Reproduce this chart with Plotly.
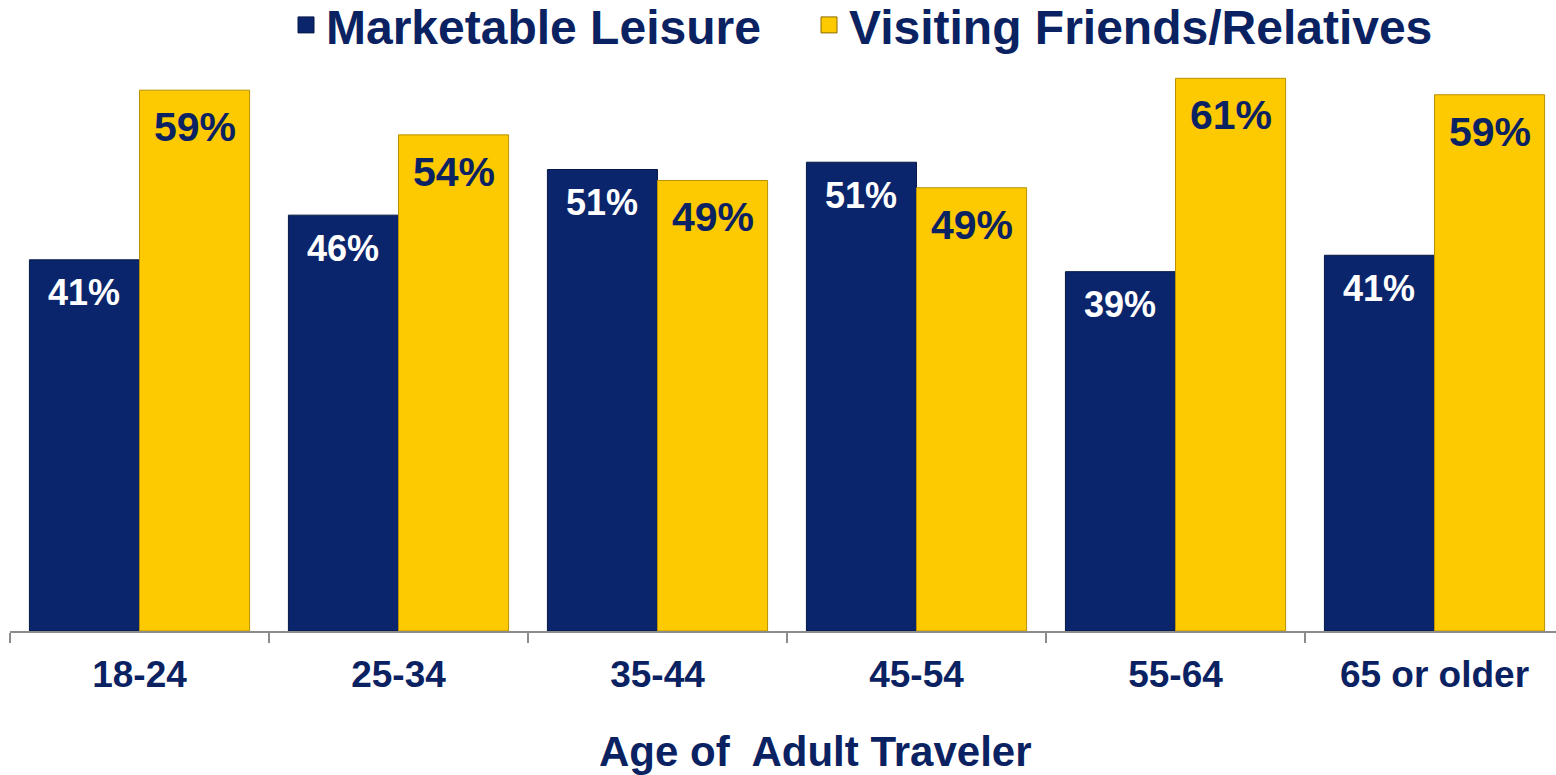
import plotly.graph_objects as go

categories = ["18-24", "25-34", "35-44", "45-54", "55-64", "65 or older"]
marketable_leisure = [40.7, 45.6, 50.6, 51.4, 39.4, 41.2]
visiting_friends = [59.3, 54.4, 49.4, 48.6, 60.6, 58.8]
series_names = ["Marketable Leisure", "Visiting Friends/Relatives"]
axis_title = "Age of  Adult Traveler"

NAVY_BAR = "#0b256c"
NAVY_TXT = "#0b2262"
YELLOW = "#fdc900"
FONT = "Liberation Sans"

W, H = 1556, 775
ML, MR, MT, MB = 10, 0, 70, 144
plot_w = W - ML - MR
plot_h = H - MT - MB
cat_w = 259.0
x_max = -0.5 + plot_w / cat_w
y_max = plot_h / 9.12

fig = go.Figure()
fig.add_trace(go.Bar(
    x=categories, y=marketable_leisure, name=series_names[0],
    marker=dict(color=NAVY_BAR, line=dict(color="#061845", width=1)),
    showlegend=False, hoverinfo="skip",
))
fig.add_trace(go.Bar(
    x=categories, y=visiting_friends, name=series_names[1],
    marker=dict(color=YELLOW, line=dict(color="#b89200", width=1)),
    showlegend=False, hoverinfo="skip",
))
# legend proxies
fig.add_trace(go.Scatter(
    x=[None], y=[None], mode="markers", name=series_names[0], legend="legend",
    marker=dict(symbol="square", size=16, color=NAVY_BAR, line=dict(color="#061845", width=1)),
))
fig.add_trace(go.Scatter(
    x=[None], y=[None], mode="markers", name=series_names[1], legend="legend2",
    marker=dict(symbol="square", size=16, color=YELLOW, line=dict(color="#8a6d00", width=1)),
))

bar_px = cat_w * 0.85 / 2
annotations = []
for c, v in zip(categories, marketable_leisure):
    annotations.append(dict(
        x=c, y=v, xref="x", yref="y", text=f"{round(v)}%", showarrow=False,
        xshift=-bar_px / 2, yshift=-33, yanchor="middle",
        font=dict(family=FONT, size=36, color="white", weight="bold"),
    ))
for c, v in zip(categories, visiting_friends):
    annotations.append(dict(
        x=c, y=v, xref="x", yref="y", text=f"{round(v)}%", showarrow=False,
        xshift=bar_px / 2, yshift=-37, yanchor="middle",
        font=dict(family=FONT, size=41, color=NAVY_TXT, weight="bold"),
    ))
annotations.append(dict(
    x=(815 - ML) / plot_w, y=-(751 - (H - MB)) / plot_h, xref="paper", yref="paper",
    text=axis_title, showarrow=False, xanchor="center", yanchor="middle",
    font=dict(family=FONT, size=42, color=NAVY_TXT, weight="bold"),
))

legend_common = dict(
    orientation="h", xanchor="left", yanchor="top",
    font=dict(family=FONT, size=48, color=NAVY_TXT, weight="bold"),
    bgcolor="rgba(0,0,0,0)", borderwidth=0,
)
leg_y = (H - MB) / plot_h + 0.005 + 10 / plot_h

fig.update_layout(
    width=W, height=H,
    margin=dict(l=ML, r=MR, t=MT, b=MB, pad=0, autoexpand=False),
    paper_bgcolor="white", plot_bgcolor="white",
    barmode="group", bargap=0.15, bargroupgap=0,
    font=dict(family=FONT, color=NAVY_TXT),
    showlegend=True,
    legend=dict(x=(286 - ML) / plot_w, y=leg_y, **legend_common),
    legend2=dict(x=(809 - ML) / plot_w, y=leg_y, **legend_common),
    annotations=annotations,
    xaxis=dict(
        type="category", range=[-0.5, x_max], autorange=False,
        showline=True, linecolor="#8c8c8c", linewidth=2,
        ticks="outside", tickson="boundaries", ticklen=10, tickcolor="#8c8c8c", tickwidth=2,
        tickfont=dict(family=FONT, size=37, color=NAVY_TXT, weight="bold"),
        ticklabelstandoff=10,
        showgrid=False, zeroline=False, fixedrange=True,
    ),
    yaxis=dict(
        range=[0, y_max], autorange=False, visible=False,
        showgrid=False, zeroline=False, fixedrange=True,
    ),
)

fig.write_html(
    "out.html",
    config={"displayModeBar": False},
    post_script="document.body.style.margin='0';document.body.style.overflow='hidden';",
)
